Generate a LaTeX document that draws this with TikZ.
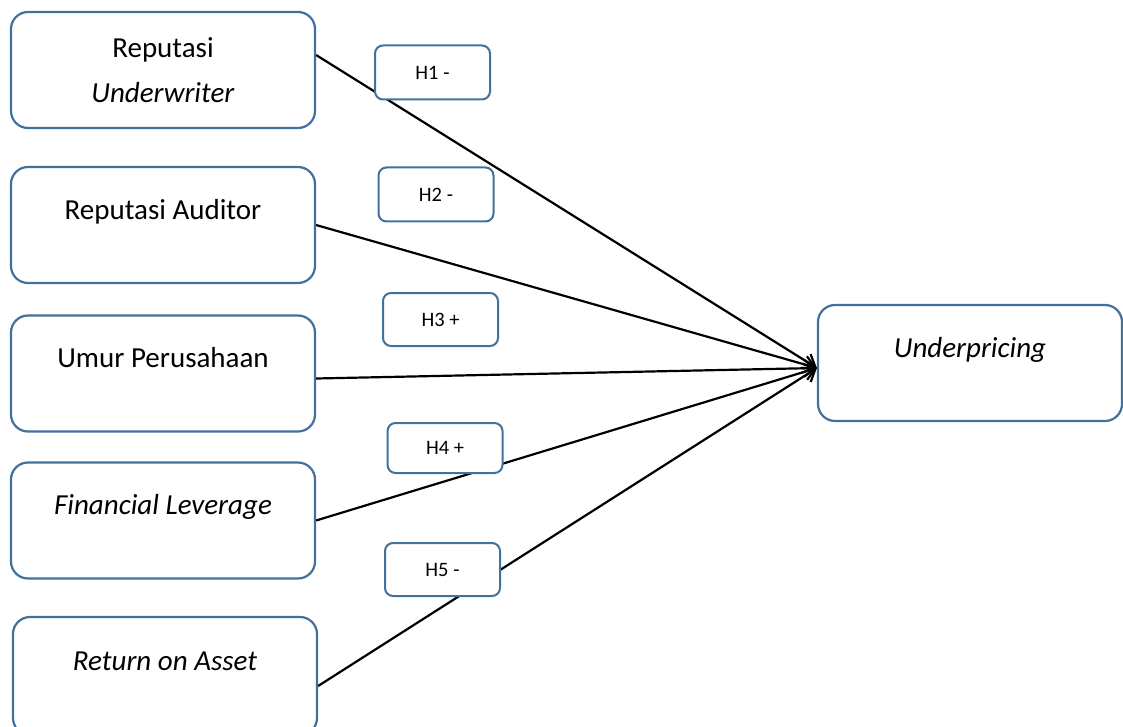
\documentclass[tikz,border=0pt]{standalone}
\usepackage{fontspec}
\setmainfont{Carlito}
\usetikzlibrary{positioning, arrows.meta}
\definecolor{boxblue}{RGB}{65,113,156}
\tikzset{x=1pt, y=-1pt, % one unit is one pixel, y runs downwards
>={Straight Barb[length=11pt,width=17pt]}, % open arrow heads
varbox/.style={draw=boxblue, line width=2.2pt, rounded corners=17pt, fill=white, minimum width=304pt, minimum height=116pt, align=center, font=\fontsize{29}{45}\selectfont}, % sets the properties for each variable box
topline/.style={text height=21pt, text depth=33pt}, % lifts a one line text towards the top of its box
hypbox/.style={draw=boxblue, line width=2pt, rounded corners=8pt, fill=white, minimum width=115pt, minimum height=54pt, font=\fontsize{20.5}{24}\selectfont}, % sets the properties for the hypothesis labels
link/.style={->, line width=2.2pt}, % the arrows between the variables
}
\begin{document}
\begin{tikzpicture}
    \useasboundingbox (0,0) rectangle (1123,727);
    \node[varbox] (ru) at (163,70) {Reputasi\\\textit{Underwriter}};
    \node[varbox, topline] (ra) at (163,225) {Reputasi Auditor};
    \node[varbox, topline] (up) at (163,373.5) {Umur Perusahaan};
    \node[varbox, topline] (fl) at (163,520.5) {\textit{Financial Leverage}};
    \node[varbox, topline, minimum height=118pt] (roa) at (165,676) {\textit{Return on Asset}};
    \node[varbox, topline] (undp) at (970,363) {\textit{Underpricing}};
    \coordinate (tip) at ([yshift=-5pt]undp.west);
    \draw[link] ([yshift=15pt]ru.east) -- (tip);
    \draw[link] (ra.east) -- (tip);
    \draw[link] ([yshift=-5pt]up.east) -- (tip);
    \draw[link] (fl.east) -- (tip);
    \draw[link] ([yshift=-10pt]roa.east) -- (tip);
    \node[hypbox] (h1) at (432.5,72.5) {H1 -};
    \node[hypbox] (h2) at (436,194.5) {H2 -};
    \node[hypbox, minimum height=53pt] (h3) at (440.5,319.5) {H3 +};
    \node[hypbox, minimum height=50pt] (h4) at (445,448) {H4 +};
    \node[hypbox, minimum height=53pt] (h5) at (442.5,569.5) {H5 -};
\end{tikzpicture}
\end{document}
